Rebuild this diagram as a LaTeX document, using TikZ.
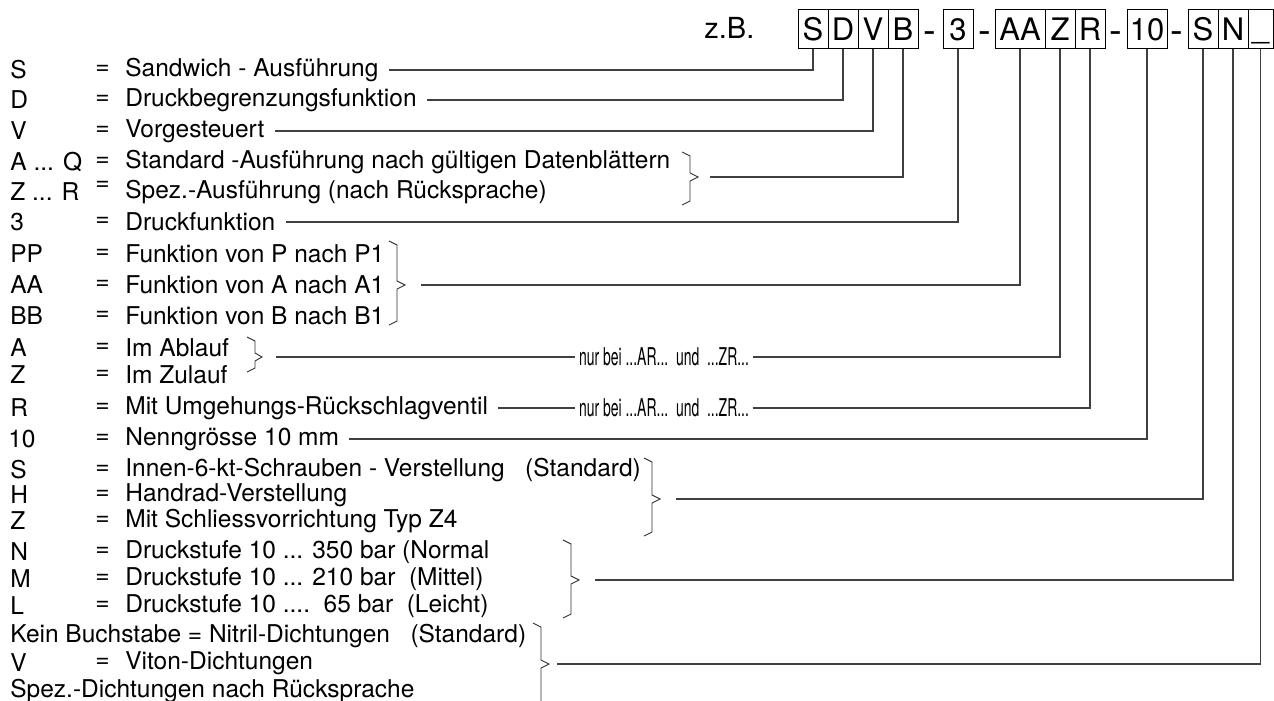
\documentclass[tikz,border=0pt]{standalone}
\usepackage{fontspec}
\setmainfont{TeX Gyre Heros}

\tikzset{every picture/.style={line width=0.75pt}}
\tikzset{
  keybox/.style={draw, line width=1, minimum height=39, inner sep=0, font=\fontsize{31}{31}\selectfont},
  sep/.style={inner sep=0, font=\fontsize{38}{38}\selectfont},
  txt/.style={anchor=west, inner sep=0},
  lead/.style={line width=1.1, draw=black!75},
  brace/.style={line width=0.9, draw=black!80}
}

\begin{document}
\begin{tikzpicture}[x=1pt,y=1pt,yscale=-1,xscale=1,font=\fontsize{24.5}{28}\selectfont]
	\useasboundingbox (0,0) rectangle (1274,701);

	% Text Node
	\draw (704,28) node [txt, font=\fontsize{29}{29}\selectfont] (zb) {z.B.};
	%Shape: Key boxes
	\draw (813,29.5) node [keybox, minimum width=30] (kS) {S};
	\draw (843,29.5) node [keybox, minimum width=30] (kD) {D};
	\draw (873,29.5) node [keybox, minimum width=30] (kV) {V};
	\draw (903,29.5) node [keybox, minimum width=30] (kB) {B};
	\draw (930,29.5) node [sep] (m1) {\vphantom{S}-};
	\draw (958,29.5) node [keybox, minimum width=30] (k3) {3};
	\draw (985,29.5) node [sep] (m2) {\vphantom{S}-};
	\draw (1020,29.5) node [keybox, minimum width=50] (kAA) {AA};
	\draw (1060,29.5) node [keybox, minimum width=30] (kZ) {Z};
	\draw (1090,29.5) node [keybox, minimum width=30] (kR) {R};
	\draw (1116,29.5) node [sep] (m3) {\vphantom{S}-};
	\draw (1147,29.5) node [keybox, minimum width=40] (k10) {10};
	\draw (1177,29.5) node [sep] (m4) {\vphantom{S}-};
	\draw (1203,29.5) node [keybox, minimum width=30] (kS2) {S};
	\draw (1233,29.5) node [keybox, minimum width=30] (kN) {N};
	\draw (1260.5,29.5) node [keybox, minimum width=25] (kX) {\vphantom{S}\_};

	% Text Node
	\draw (10,70) node [txt] {S};
	\draw (95,70) node [txt] {=};
	\draw (125,70) node [txt] (tS) {Sandwich - Ausführung};
	% Text Node
	\draw (10,100) node [txt] {D};
	\draw (95,100) node [txt] {=};
	\draw (125,100) node [txt] (tD) {Druckbegrenzungsfunktion};
	% Text Node
	\draw (10,131) node [txt] {V};
	\draw (95,131) node [txt] {=};
	\draw (125,131) node [txt] (tV) {Vorgesteuert};
	% Text Node
	\draw (10,162) node [txt] {A ... Q};
	\draw (95,162) node [txt] {=};
	\draw (125,162) node [txt] (tAQ) {Standard -Ausführung nach gültigen Datenblättern};
	% Text Node
	\draw (10,192) node [txt] {Z ... R};
	\draw (95,186) node [txt] {=};
	\draw (125,192) node [txt] (tZR) {Spez.-Ausführung (nach Rücksprache)};
	% Text Node
	\draw (10,222) node [txt] {3};
	\draw (95,222) node [txt] {=};
	\draw (125,222) node [txt] (t3) {Druckfunktion};
	% Text Node
	\draw (10,254) node [txt] {PP};
	\draw (95,254) node [txt] {=};
	\draw (125,254) node [txt] (tPP) {Funktion von P nach P1};
	% Text Node
	\draw (10,285) node [txt] {AA};
	\draw (95,285) node [txt] {=};
	\draw (125,285) node [txt] (tAA) {Funktion von A nach A1};
	% Text Node
	\draw (10,316) node [txt] {BB};
	\draw (95,316) node [txt] {=};
	\draw (125,316) node [txt] (tBB) {Funktion von B nach B1};
	% Text Node
	\draw (10,348) node [txt] {A};
	\draw (95,348) node [txt] {=};
	\draw (125,348) node [txt] (tA) {Im Ablauf};
	% Text Node
	\draw (10,375) node [txt] {Z};
	\draw (95,375) node [txt] {=};
	\draw (125,375) node [txt] (tZ) {Im Zulauf};
	% Text Node
	\draw (10,408) node [txt] {R};
	\draw (95,408) node [txt] {=};
	\draw (125,408) node [txt] (tR) {Mit Umgehungs-Rückschlagventil};
	% Text Node
	\draw (8,439) node [txt] {10};
	\draw (95,439) node [txt] {=};
	\draw (125,439) node [txt] (t10) {Nenngrösse 10 mm};
	% Text Node
	\draw (10,470) node [txt] {S};
	\draw (95,470) node [txt] {=};
	\draw (125,470) node [txt] (tS2) {Innen-6-kt-Schrauben - Verstellung\ \ \ (Standard)};
	% Text Node
	\draw (10,495) node [txt] {H};
	\draw (95,495) node [txt] {=};
	\draw (125,495) node [txt] (tH) {Handrad-Verstellung};
	% Text Node
	\draw (10,521) node [txt] {Z};
	\draw (95,521) node [txt] {=};
	\draw (125,521) node [txt] (tZ2) {Mit Schliessvorrichtung Typ Z4};
	% Text Node
	\draw (10,552) node [txt] {N};
	\draw (95,552) node [txt] {=};
	\draw (125,552) node [txt] (tN) {Druckstufe 10 ... 350 bar (Normal};
	% Text Node
	\draw (10,579) node [txt] {M};
	\draw (95,579) node [txt] {=};
	\draw (125,579) node [txt] (tM) {Druckstufe 10 ... 210 bar\ \ (Mittel)};
	% Text Node
	\draw (10,606) node [txt] {L};
	\draw (95,606) node [txt] {=};
	\draw (125,606) node [txt] (tL) {Druckstufe 10 ....\ \ 65 bar\ \ (Leicht)};
	% Text Node
	\draw (10,636) node [txt] (tKein) {Kein Buchstabe = Nitril-Dichtungen\ \ \ (Standard)};
	% Text Node
	\draw (10,663) node [txt] {V};
	\draw (95,663) node [txt] {=};
	\draw (125,663) node [txt] (tVi) {Viton-Dichtungen};
	% Text Node
	\draw (10,691) node [txt] (tSpez) {Spez.-Dichtungen nach Rücksprache};
	% Text Node
	\draw (664,357) node (nurA) {\scalebox{0.57}[1]{nur bei ...AR...\ \ und\ \ ...ZR...}};
	\draw (664,408) node (nurR) {\scalebox{0.57}[1]{nur bei ...AR...\ \ und\ \ ...ZR...}};

	%Shape: Braces
	\draw [brace] (682,152) -- (690,156) -- (690,173) -- (698,177) -- (690,181) -- (690,201) -- (682,205);
	\draw [brace] (389,241) -- (397,245) -- (397,281) -- (405,285) -- (397,289) -- (397,321) -- (389,325);
	\draw [brace] (247,337) -- (255,341) -- (255,353) -- (262,357) -- (255,361) -- (255,368) -- (247,372);
	\draw [brace] (644,458) -- (652,462) -- (652,495) -- (660,499) -- (652,503) -- (652,532) -- (644,536);
	\draw [brace] (563,540) -- (571,544) -- (571,576) -- (579,580) -- (571,584) -- (571,614) -- (563,618);
	\draw [brace] (533,623) -- (541,627) -- (541,660) -- (549,664) -- (541,668) -- (541,701);
	\coordinate (bB) at (698,177);
	\coordinate (bAA) at (405,285);
	\coordinate (bZ) at (262,357);
	\coordinate (bS2) at (660,499);
	\coordinate (bN) at (579,580);
	\coordinate (bX) at (549,664);

	%Straight Lines
	\draw [lead] ([xshift=10]tS.east) -| (kS.south);
	\draw [lead] ([xshift=10]tD.east) -| (kD.south);
	\draw [lead] ([xshift=10]tV.east) -| (kV.south);
	\draw [lead] ([xshift=12]bB) -| (kB.south);
	\draw [lead] ([xshift=10]t3.east) -| (k3.south);
	\draw [lead] ([xshift=16]bAA) -| (kAA.south);
	\draw [lead] ([xshift=14]bZ) -- (nurA.west);
	\draw [lead] (nurA.east) -| (kZ.south);
	\draw [lead] ([xshift=10]tR.east) -- (nurR.west);
	\draw [lead] (nurR.east) -| (kR.south);
	\draw [lead] ([xshift=10]t10.east) -| (k10.south);
	\draw [lead] ([xshift=16]bS2) -| (kS2.south);
	\draw [lead] ([xshift=16]bN) -| (kN.south);
	\draw [lead] ([xshift=8]bX) -| (kX.south);

\end{tikzpicture}
\end{document}
